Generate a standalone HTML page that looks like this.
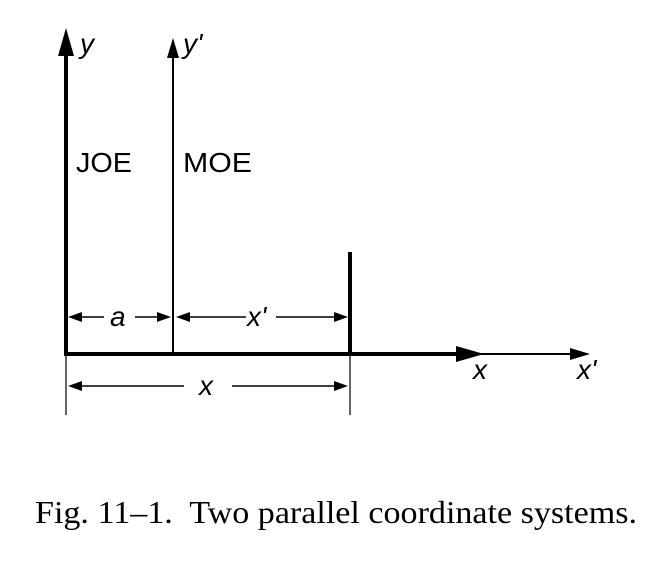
<!DOCTYPE html>
<html><head><meta charset="utf-8"><style>html,body{margin:0;padding:0;background:#fff}svg{display:block}</style></head>
<body>
<svg width="658" height="564" viewBox="0 0 658 564" xmlns="http://www.w3.org/2000/svg">
<g stroke="#000" fill="none">
<line x1="66" y1="50" x2="66" y2="356" stroke-width="4"/>
<line x1="173" y1="54" x2="173" y2="354" stroke-width="2"/>
<line x1="64" y1="354" x2="458" y2="354" stroke-width="4"/>
<line x1="456" y1="354" x2="572" y2="354" stroke-width="2"/>
<line x1="350" y1="252" x2="350" y2="354" stroke-width="4"/>
<line x1="66" y1="354" x2="66" y2="415" stroke-width="1.2"/>
<line x1="350" y1="354" x2="350" y2="415" stroke-width="1.2"/>
<line x1="80" y1="317" x2="104" y2="317" stroke-width="1.6"/>
<line x1="135" y1="317" x2="160" y2="317" stroke-width="1.6"/>
<line x1="188" y1="317" x2="246" y2="317" stroke-width="1.6"/>
<line x1="276" y1="317" x2="336" y2="317" stroke-width="1.6"/>
<line x1="80" y1="386" x2="184" y2="386" stroke-width="1.6"/>
<line x1="232" y1="386" x2="336" y2="386" stroke-width="1.6"/>
</g>
<g fill="#000">
<polygon points="66,28 58,56 74,56"/>
<polygon points="173,38 167,58 179,58"/>
<polygon points="484,354 456,346 456,362"/>
<polygon points="590,354 570,348 570,360"/>
<polygon points="68,317 82,312 82,322"/>
<polygon points="171,317 157,312 157,322"/>
<polygon points="176,317 190,312 190,322"/>
<polygon points="348,317 334,312 334,322"/>
<polygon points="68,386 82,381 82,391"/>
<polygon points="348,386 334,381 334,391"/>
</g>
<g font-family="'Liberation Sans',sans-serif" font-size="28" fill="#000">
<text x="80" y="53" font-style="italic">y</text>
<text x="183" y="53" font-style="italic">y'</text>
<text x="76" y="172" textLength="56" lengthAdjust="spacingAndGlyphs">JOE</text>
<text x="183" y="172" textLength="69" lengthAdjust="spacingAndGlyphs">MOE</text>
<text x="110" y="326" font-style="italic">a</text>
<text x="247" y="326" font-style="italic">x'</text>
<text x="199" y="395" font-style="italic">x</text>
<text x="473" y="379" font-style="italic">x</text>
<text x="577" y="379" font-style="italic">x'</text>
</g>
<text x="35" y="523" font-family="'Liberation Serif',serif" font-size="32" fill="#000" textLength="602" lengthAdjust="spacingAndGlyphs" xml:space="preserve">Fig. 11–1.  Two parallel coordinate systems.</text>
</svg>
</body></html>
